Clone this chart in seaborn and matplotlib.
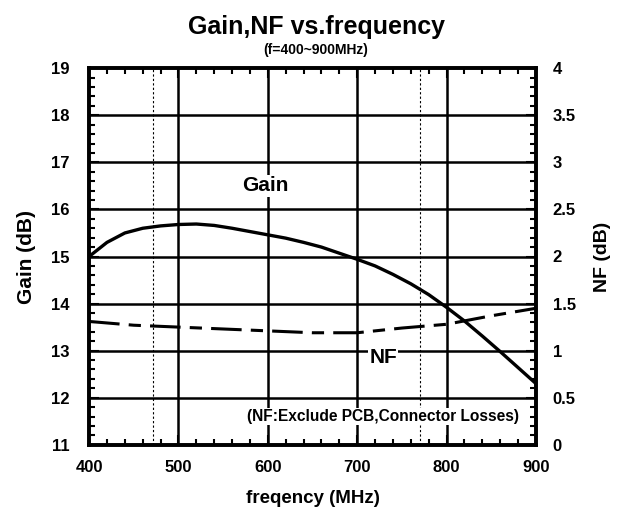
import numpy as np
import pandas as pd
import matplotlib
matplotlib.use("Agg")
import matplotlib.pyplot as plt
import seaborn as sns
from matplotlib.ticker import MultipleLocator

# --- данные ---
freq_gain = [400, 420, 440, 460, 480, 500, 520, 540, 560, 580, 600, 620, 640,
             660, 680, 700, 720, 740, 760, 780, 800, 820, 840, 860, 880, 900]
gain_db = [15.0, 15.3, 15.5, 15.6, 15.65, 15.68, 15.69, 15.66, 15.6, 15.53, 15.46,
           15.39, 15.3, 15.2, 15.07, 14.94, 14.8, 14.62, 14.42, 14.19, 13.92,
           13.63, 13.31, 12.98, 12.64, 12.3]
freq_nf = [400, 450, 500, 550, 600, 650, 700, 750, 800, 850, 900]
nf_db = [1.31, 1.27, 1.25, 1.23, 1.21, 1.19, 1.19, 1.24, 1.28, 1.37, 1.45]
marker_freqs = [472, 770]
nf_ticks = [0, 0.5, 1, 1.5, 2, 2.5, 3, 3.5, 4]
nf_ticklabels = ["0", "0.5", "1", "1.5", "2", "2.5", "3", "3.5", "4"]

df_gain = pd.DataFrame({"freq": freq_gain, "gain": gain_db})
df_nf = pd.DataFrame({"freq": freq_nf, "nf": nf_db})

sns.set_style("ticks")
plt.rcParams['font.family'] = ['Liberation Sans', 'DejaVu Sans']
plt.rcParams['font.weight'] = 'bold'
plt.rcParams['text.color'] = 'black'
plt.rcParams['axes.labelcolor'] = 'black'
plt.rcParams['xtick.color'] = 'black'
plt.rcParams['ytick.color'] = 'black'
plt.rcParams['axes.edgecolor'] = 'black'

fig = plt.figure(figsize=(6.32, 5.13), dpi=100)
ax = fig.add_axes([0.141, 0.133, 0.707, 0.734])
ax2 = ax.twinx()

# сетка
for x in [500, 600, 700, 800]:
    ax.axvline(x, color="black", lw=1.8, zorder=1)
for y in range(12, 19):
    ax.axhline(y, color="black", lw=1.8, zorder=1)
for x in marker_freqs:
    ax.axvline(x, color="black", lw=0.8, ls=(0, (2, 2)), zorder=1)

sns.lineplot(data=df_gain, x="freq", y="gain", ax=ax, color="black", lw=2.4, zorder=3)
sns.lineplot(data=df_nf, x="freq", y="nf", ax=ax2, color="black", lw=2.2, zorder=3)
ax2.lines[-1].set_dashes((10, 3, 4, 3))

ax.set_xlim(400, 900)
ax.set_ylim(11, 19)
ax2.set_ylim(0, 4)

ax.xaxis.set_major_locator(MultipleLocator(100))
ax.xaxis.set_minor_locator(MultipleLocator(20))
ax.yaxis.set_major_locator(MultipleLocator(1))
ax.yaxis.set_minor_locator(MultipleLocator(0.2))
ax2.set_yticks(nf_ticks)
ax2.set_yticklabels(nf_ticklabels)
ax2.yaxis.set_minor_locator(MultipleLocator(0.1))

ax.tick_params(which="both", direction="in", top=True, labelsize=12, width=1.5)
ax.tick_params(axis="y", pad=14)
ax.tick_params(axis="x", pad=11)
ax.tick_params(which="major", length=7)
ax.tick_params(which="minor", length=4)
ax2.tick_params(which="both", direction="in", labelsize=12, width=1.5, pad=12)
ax2.tick_params(which="major", length=7)
ax2.tick_params(which="minor", length=4)

for a in (ax, ax2):
    for s in a.spines.values():
        s.set_linewidth(2.6)
        s.set_visible(True)
        s.set_color("black")
    for lab in a.get_xticklabels() + a.get_yticklabels():
        lab.set_fontweight("bold")

ax.set_xlabel("freqency (MHz)", fontsize=13.5, fontweight="bold", labelpad=11)
ax.set_ylabel("Gain (dB)", fontsize=15, fontweight="bold", labelpad=11)
ax2.set_ylabel("NF (dB)", fontsize=14, fontweight="bold", labelpad=13)

ax.text(597, 16.5, "Gain", fontsize=15, fontweight="bold", ha="center", va="center",
        zorder=4, bbox=dict(facecolor="white", edgecolor="none", pad=1))
ax.text(729, 12.85, "NF", fontsize=15, fontweight="bold", ha="center", va="center",
        zorder=4, bbox=dict(facecolor="white", edgecolor="none", pad=1))
ax.text(729, 11.6, "(NF:Exclude PCB,Connector Losses)", fontsize=11.2, fontweight="bold",
        ha="center", va="center", zorder=4,
        bbox=dict(facecolor="white", edgecolor="none", pad=1))

fig.text(0.5, 0.948, "Gain,NF vs.frequency", fontsize=18, fontweight="bold",
         ha="center", va="center")
fig.text(0.5, 0.902, "(f=400~900MHz)", fontsize=10, fontweight="bold",
         ha="center", va="center")

fig.savefig("out.png", dpi=100)
